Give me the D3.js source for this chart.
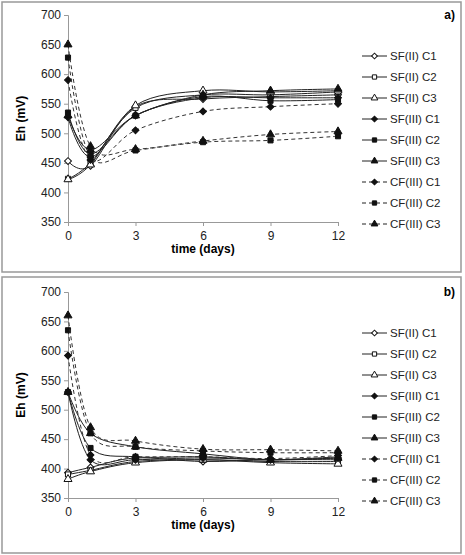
<!DOCTYPE html>
<html>
<head>
<meta charset="utf-8">
<script src="https://cdn.jsdelivr.net/npm/d3@7"></script>
<style>
  body { margin: 0; background: #fff; }
  text { font-family: "Liberation Sans", Arial, sans-serif; }
</style>
</head>
<body>
<svg id="chart" width="465" height="555"></svg>
<script>
  'use strict';

  // chart data
  var days = [0, 1, 3, 6, 9, 12];
  var seriesNames = ['SF(II) C1', 'SF(II) C2', 'SF(II) C3', 'SF(III) C1', 'SF(III) C2',
    'SF(III) C3', 'CF(III) C1', 'CF(III) C2', 'CF(III) C3'];
  var seriesMarkers = ['diamond', 'square', 'triangle', 'diamond', 'square', 'triangle',
    'diamond', 'square', 'triangle'];
  var seriesOpen = [true, true, true, false, false, false, false, false, false];
  var seriesDashed = [false, false, false, false, false, false, true, true, true];
  var yTicks = [350, 400, 450, 500, 550, 600, 650, 700];

  var panelA = [
    [453, 445, 545, 558, 562, 565],
    [423, 450, 543, 565, 565, 570],
    [422, 447, 547, 572, 570, 572],
    [527, 460, 530, 560, 560, 560],
    [535, 465, 530, 562, 555, 557],
    [530, 472, 530, 565, 572, 575],
    [590, 455, 505, 537, 545, 550],
    [628, 460, 471, 485, 488, 495],
    [650, 478, 473, 487, 498, 503]
  ];
  var panelB = [
    [393, 402, 418, 412, 415, 415],
    [390, 397, 412, 415, 412, 412],
    [382, 395, 410, 415, 410, 408],
    [530, 415, 415, 418, 415, 418],
    [530, 435, 420, 420, 415, 420],
    [530, 460, 437, 425, 415, 418],
    [592, 423, 420, 420, 417, 422],
    [635, 460, 437, 430, 427, 427],
    [660, 470, 447, 433, 432, 430]
  ];

  var svg = d3.select('#chart');

  function markerPath(kind, scale) {
    if (kind === 'diamond') return d3.symbol(d3.symbolSquare, 24 * scale)();
    if (kind === 'square') return d3.symbol(d3.symbolSquare, 26 * scale)();
    return d3.symbol(d3.symbolTriangle, 28 * scale)();
  }

  function drawMarker(g, kind, open, x, y, scale) {
    g.append('path')
      .attr('d', markerPath(kind, scale || 1))
      .attr('transform', 'translate(' + x + ',' + y + ')' + (kind === 'diamond' ? ' rotate(45)' : ''))
      .attr('fill', open ? '#fff' : '#111')
      .attr('stroke', '#111')
      .attr('stroke-width', 1);
  }

  function drawPanel(top, bottom, values, tag) {
    var frameTop = top === 15 ? 2 : 277;
    var frameBottom = top === 15 ? 272 : 553;
    svg.append('rect')
      .attr('x', 2).attr('y', frameTop)
      .attr('width', 459).attr('height', frameBottom - frameTop)
      .attr('fill', 'none').attr('stroke', '#999').attr('stroke-width', 1.5);

    var x = d3.scaleLinear().domain([0, 12]).range([68, 338]);
    var y = d3.scaleLinear().domain([350, 700]).range([bottom, top]);
    var g = svg.append('g');

    var yAxis = g.append('g')
      .attr('transform', 'translate(68,0)')
      .call(d3.axisLeft(y).tickValues(yTicks).tickSize(4).tickPadding(3));
    var xAxis = g.append('g')
      .attr('transform', 'translate(0,' + bottom + ')')
      .call(d3.axisBottom(x).tickValues([0, 3, 6, 9, 12]).tickSize(4).tickPadding(5));
    [yAxis, xAxis].forEach(function(ax) {
      ax.select('.domain').attr('stroke', '#999');
      ax.selectAll('.tick line').attr('stroke', '#999');
      ax.selectAll('.tick text').attr('fill', '#222').style('font-size', '12px')
        .style('font-family', '"Liberation Sans", Arial, sans-serif');
    });

    g.append('text')
      .attr('x', 203).attr('y', bottom + 31)
      .attr('text-anchor', 'middle')
      .style('font-size', '12px').style('font-weight', 'bold')
      .text('time (days)');
    g.append('text')
      .attr('transform', 'translate(25,' + ((top + bottom) / 2) + ') rotate(-90)')
      .attr('text-anchor', 'middle')
      .style('font-size', '12px').style('font-weight', 'bold')
      .text('Eh (mV)');
    g.append('text')
      .attr('x', 455).attr('y', top + 4)
      .attr('text-anchor', 'end')
      .style('font-size', '12px').style('font-weight', 'bold')
      .text(tag);

    var line = d3.line()
      .x(function(d, i) { return x(days[i]); })
      .y(function(d) { return y(d); })
      .curve(d3.curveCardinal.tension(0));

    values.forEach(function(vals, s) {
      g.append('path')
        .attr('d', line(vals))
        .attr('fill', 'none')
        .attr('stroke', seriesDashed[s] ? '#333' : '#222')
        .attr('stroke-width', 1)
        .attr('stroke-dasharray', seriesDashed[s] ? '4,3' : null);
      vals.forEach(function(v, i) {
        drawMarker(g, seriesMarkers[s], seriesOpen[s], x(days[i]), y(v));
      });
    });

    // legend
    var legTop = top + 41;
    seriesNames.forEach(function(name, s) {
      var ly = legTop + s * 21;
      g.append('line')
        .attr('x1', 362).attr('x2', 387).attr('y1', ly).attr('y2', ly)
        .attr('stroke', '#222').attr('stroke-width', 1)
        .attr('stroke-dasharray', seriesDashed[s] ? '4,3' : null);
      drawMarker(g, seriesMarkers[s], seriesOpen[s], 374.5, ly, 0.7);
      g.append('text')
        .attr('x', 390).attr('y', ly + 4)
        .style('font-size', '11.5px').attr('fill', '#222')
        .text(name);
    });
  }

  drawPanel(15, 222, panelA, 'a)');
  drawPanel(292, 498, panelB, 'b)');
</script>
</body>
</html>
